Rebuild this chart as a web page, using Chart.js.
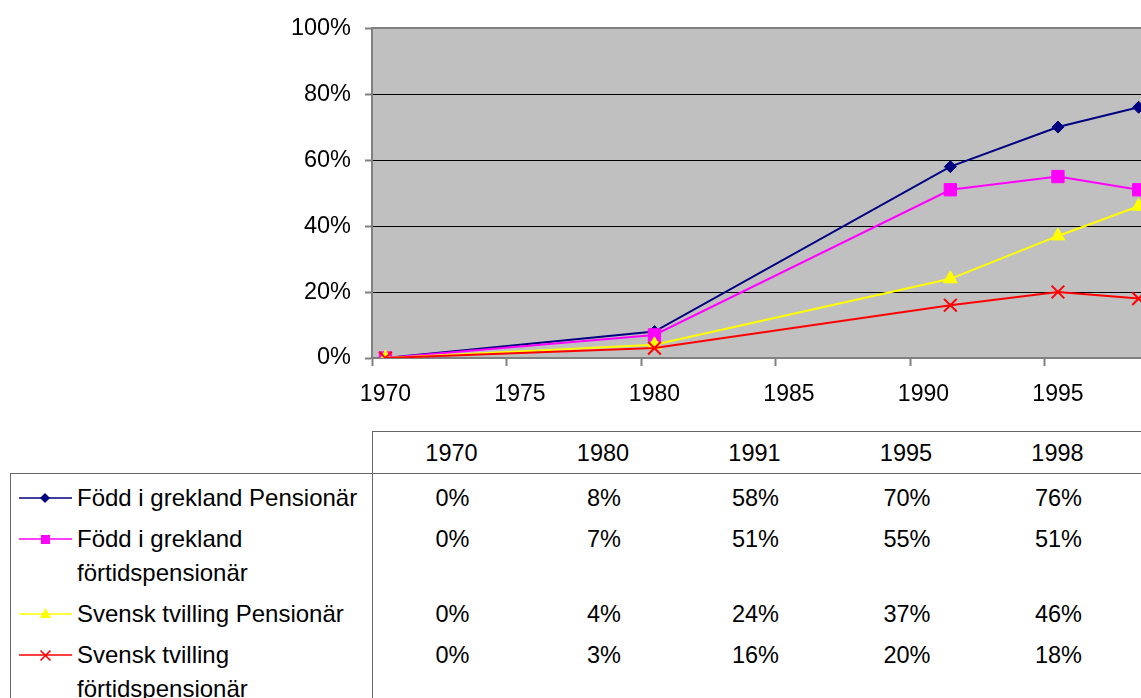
<!DOCTYPE html>
<html>
<head>
<meta charset="utf-8">
<script src="https://cdn.jsdelivr.net/npm/chart.js@4"></script>
<style>
  html, body { margin: 0; padding: 0; background: #fff; overflow: hidden; width: 1141px; height: 698px; }
  body { position: relative; font-family: "Liberation Sans", Arial, sans-serif; color: #000; }
  #chartBox { position: absolute; left: 0; top: 0; width: 1200px; height: 410px; }
  #head { position: absolute; left: 372px; top: 431px; width: 900px; height: 42px;
          border-top: 1px solid #666; border-left: 1px solid #666; }
  #body { position: absolute; left: 10px; top: 473px; width: 1300px; height: 300px;
          border-left: 1px solid #666; border-top: 1px solid #666; }
  #divider { position: absolute; left: 372px; top: 474px; width: 0; height: 300px; border-left: 1px solid #666; }
  .cell { position: absolute; width: 151px; text-align: center; font-size: 23.5px; line-height: 34px; }
  .row { position: relative; padding-top: 7px; }
  .lab { position: relative; margin-left: 66px; width: 296px; font-size: 24px; line-height: 34px; }
  .mark { position: absolute; left: 8px; top: 7px; }
</style>
</head>
<body>
<div id="chartBox"><canvas id="c" width="1200" height="410"></canvas></div>
<div id="head"></div>
<div id="body"></div>
<div id="divider"></div>
<script>
const years = [1970, 1980, 1991, 1995, 1998];
const tickYears = [1970, 1975, 1980, 1985, 1990, 1995];
const yTicks = [0, 20, 40, 60, 80, 100];
const seriesNames = [
  "Född i grekland Pensionär",
  "Född i grekland förtidspensionär",
  "Svensk tvilling Pensionär",
  "Svensk tvilling förtidspensionär"
];
const foddPension = [0, 8, 58, 70, 76];
const foddFortid = [0, 7, 51, 55, 51];
const svenskPension = [0, 4, 24, 37, 46];
const svenskFortid = [0, 3, 16, 20, 18];

const seriesValues = [foddPension, foddFortid, svenskPension, svenskFortid];
const colors = ["#000080", "#FF00FF", "#FFFF00", "#FF0000"];
const styles = ["rectRot", "rect", "triangle", "crossRot"];
const radii = [6, 8.7, 8, 9];

const FONT = "'Liberation Sans', Arial, sans-serif";

const plotBg = {
  id: "plotBg",
  beforeDraw(chart) {
    const a = chart.chartArea, ctx = chart.ctx;
    ctx.save();
    ctx.fillStyle = "#C0C0C0";
    ctx.fillRect(a.left, a.top, a.right - a.left, a.bottom - a.top);
    ctx.restore();
  },
  beforeDatasetsDraw(chart) {
    const a = chart.chartArea, ctx = chart.ctx;
    ctx.save();
    ctx.strokeStyle = "#808080";
    ctx.lineWidth = 2;
    ctx.beginPath();
    ctx.moveTo(a.left, a.top);
    ctx.lineTo(a.right, a.top);
    ctx.stroke();
    ctx.restore();
  }
};

const datasets = seriesValues.map((vals, i) => ({
  label: seriesNames[i],
  data: vals.map((v, j) => ({ x: years[j], y: v })),
  borderColor: colors[i],
  backgroundColor: colors[i],
  pointBackgroundColor: colors[i],
  pointBorderColor: colors[i],
  pointStyle: styles[i],
  pointRadius: radii[i],
  pointBorderWidth: i === 3 ? 2 : 1,
  borderWidth: 2,
  tension: 0,
  order: 3 - i
}));

new Chart(document.getElementById("c"), {
  type: "line",
  data: { datasets },
  plugins: [plotBg],
  options: {
    responsive: false,
    animation: false,
    devicePixelRatio: 1,
    layout: { padding: { top: 27, right: 21, left: 0, bottom: 0 } },
    plugins: { legend: { display: false }, tooltip: { enabled: false } },
    scales: {
      x: {
        type: "linear",
        min: tickYears[0] - 0.5,
        max: 1999.5,
        afterBuildTicks(scale) {
          scale.ticks = tickYears.map(y => ({ value: y - 0.5 }));
        },
        afterFit(scale) { scale.height = 52; },
        grid: { drawOnChartArea: false, drawTicks: true, tickLength: 8, tickColor: "#808080", tickWidth: 2 },
        border: { display: true, color: "#808080", width: 2 },
        ticks: {
          color: "#000",
          font: { family: FONT, size: 23 },
          padding: 15,
          labelOffset: 13.45,
          maxRotation: 0,
          autoSkip: false,
          callback: v => String(v + 0.5)
        }
      },
      y: {
        min: 0,
        max: 100,
        afterBuildTicks(scale) {
          scale.ticks = yTicks.map(v => ({ value: v }));
        },
        afterFit(scale) { scale.width = 372; },
        grid: { color: "#000", lineWidth: 1, tickLength: 7, tickColor: "#808080", tickWidth: 2 },
        border: { display: true, color: "#808080", width: 2 },
        ticks: {
          color: "#000",
          font: { family: FONT, size: 23.5 },
          padding: 14,
          callback: v => v + "%"
        }
      }
    }
  }
});

// data table under the chart
const head = document.getElementById("head");
years.forEach((y, j) => {
  const d = document.createElement("div");
  d.className = "cell";
  d.style.left = (3 + j * 151.5) + "px";
  d.style.top = "4px";
  d.textContent = y;
  head.appendChild(d);
});

function markerSvg(i) {
  const c = colors[i];
  let shape = "";
  if (styles[i] === "rectRot") shape = `<polygon points="26,12 31,17 26,22 21,17" fill="${c}"/>`;
  else if (styles[i] === "rect") shape = `<rect x="22" y="13" width="9" height="9" fill="${c}"/>`;
  else if (styles[i] === "triangle") shape = `<polygon points="26.5,11 32,21 21,21" fill="${c}"/>`;
  else shape = `<path d="M21.5 12.5 L31.5 22.5 M31.5 12.5 L21.5 22.5" stroke="${c}" stroke-width="1.6"/>`;
  return `<svg class="mark" width="54" height="34"><line x1="0" y1="17" x2="53" y2="17" stroke="${c}" stroke-width="1.6"/>${shape}</svg>`;
}

const body = document.getElementById("body");
seriesNames.forEach((name, i) => {
  const row = document.createElement("div");
  row.className = "row";
  row.innerHTML = markerSvg(i);
  const lab = document.createElement("div");
  lab.className = "lab";
  lab.textContent = name;
  row.appendChild(lab);
  seriesValues[i].forEach((v, j) => {
    const d = document.createElement("div");
    d.className = "cell";
    d.style.left = (366 + j * 151.5) + "px";
    d.style.top = "7px";
    d.textContent = v + "%";
    row.appendChild(d);
  });
  body.appendChild(row);
});
</script>
</body>
</html>
